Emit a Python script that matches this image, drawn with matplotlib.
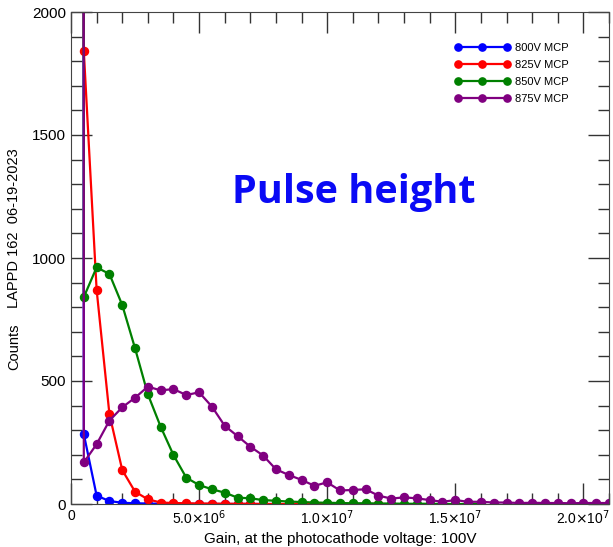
import numpy as np
import matplotlib.pyplot as plt
from matplotlib.ticker import MultipleLocator, FixedLocator, FixedFormatter

plt.rcParams['font.family'] = ['Liberation Sans', 'DejaVu Sans']

# gain bins: first (pedestal) bin sits just left of the 5e5 bin
gain = np.concatenate([[4.7e5], np.arange(1, 43) * 5e5])

counts_800 = [6000, 284, 34, 12, 5, 3, 2, 1, 1, 1, 0, 0, 0, 0, 0, 0, 0]
counts_825 = [9000, 1841, 871, 365, 138, 50, 19, 6, 4, 3, 2, 2, 1, 1, 1, 0,
              0, 0, 0, 0, 0, 0, 0, 0, 0]
counts_850 = [12000, 841, 962, 935, 809, 633, 446, 314, 199, 107, 77, 60, 46,
              26, 23, 16, 13, 10, 8, 6, 5, 4, 3, 3, 2, 2, 1, 1, 1, 0, 0, 0, 0]
counts_875 = [15000, 169, 243, 339, 393, 432, 477, 462, 467, 443, 454, 396, 318,
              276, 233, 197, 141, 118, 98, 74, 88, 55, 57, 60, 34, 22, 27, 23,
              16, 9, 16, 9, 9, 6, 6, 4, 5, 4, 4, 3, 4, 4, 4]

series = [("800V MCP", counts_800, "#0000ff"),
          ("825V MCP", counts_825, "#ff0000"),
          ("850V MCP", counts_850, "#008000"),
          ("875V MCP", counts_875, "#800080")]

xticks = [0, 5e6, 1e7, 1.5e7, 2e7]
xticklabels = ["0", r"5.0$\times$10$^6$", r"1.0$\times$10$^7$",
               r"1.5$\times$10$^7$", r"2.0$\times$10$^7$"]

fig = plt.figure(figsize=(6.13, 5.47), dpi=100)
ax = fig.add_axes([71 / 613, 1 - 504 / 547, 538 / 613, 492 / 547])

for name, vals, col in series:
    ax.plot(gain[:len(vals)], vals, '-o', color=col, lw=1.6, ms=5.8,
            label=name)

ax.set_xlim(0, 2.1e7)
ax.set_ylim(0, 2000)

ax.xaxis.set_major_locator(FixedLocator(xticks))
ax.xaxis.set_major_formatter(FixedFormatter(xticklabels))
ax.xaxis.set_minor_locator(MultipleLocator(1e6))
ax.yaxis.set_major_locator(MultipleLocator(500))
ax.yaxis.set_minor_locator(MultipleLocator(100))
ax.tick_params(which='both', direction='in', top=True, right=True,
               color='#333333')
ax.tick_params(axis='x', labelsize=10)
ax.tick_params(axis='y', labelsize=11)
ax.tick_params(which='major', length=15, width=1)
ax.tick_params(which='minor', length=8, width=1)
for s in ax.spines.values():
    s.set_color('#444444')

ax.set_xlabel("Gain, at the photocathode voltage: 100V", fontsize=11, labelpad=3)
fig.text(14 / 613, 1 - 347 / 547, "Counts", rotation=90, fontsize=10.5,
         ha='center', va='center')
fig.text(14 / 613, 1 - 228 / 547, "LAPPD 162  06-19-2023", rotation=90,
         fontsize=10.5, ha='center', va='center')

fig.text(354 / 613, 1 - 193 / 547, "Pulse height", fontsize=28.5,
         fontweight='bold', color='#0a0af5', family='Open Sans',
         ha='center', va='center')

ax.legend(loc='upper left', bbox_to_anchor=(0.695, 0.957), frameon=False,
          fontsize=8, numpoints=3, handlelength=4.95, handletextpad=0.45,
          labelspacing=0.63, markerscale=0.9)

fig.savefig("out.png", dpi=100)
